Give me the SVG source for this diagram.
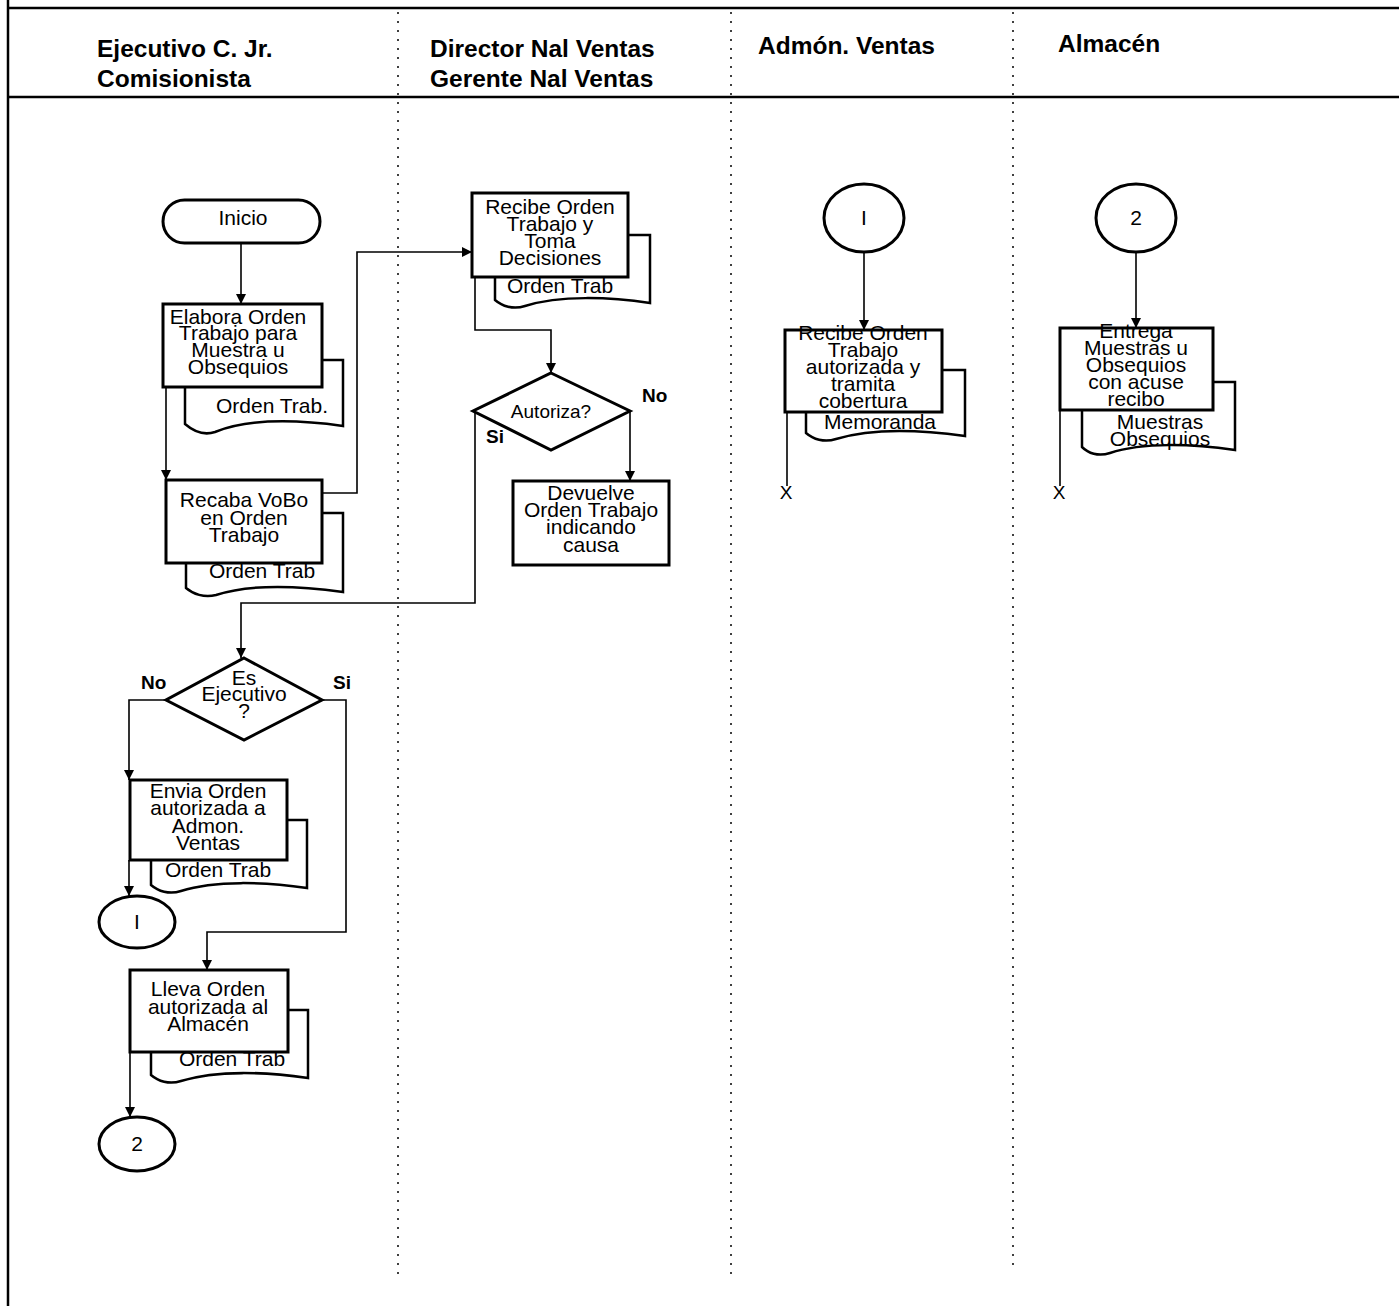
<svg xmlns="http://www.w3.org/2000/svg" width="1399" height="1306" viewBox="0 0 1399 1306">
<style>
.frame{stroke:#000;stroke-width:2.5;fill:none}
.sep{stroke:#000;stroke-width:1.5;stroke-dasharray:2 7;fill:none}
.hdr{font-family:"Liberation Sans",Arial,sans-serif;font-size:24.5px;font-weight:bold;fill:#000}
.box{fill:#fff;stroke:#000;stroke-width:3}
.doc{fill:#fff;stroke:#000;stroke-width:2.5}
.t{font-family:"Liberation Sans",Arial,sans-serif;font-size:21px;text-anchor:middle;fill:#000}
.lbl{font-family:"Liberation Sans",Arial,sans-serif;font-size:19px;font-weight:bold;fill:#000}
.conn{stroke:#000;stroke-width:1.6;fill:none}
</style>
<defs>
<marker id="arr" viewBox="0 0 10 10" refX="10" refY="5" markerWidth="10" markerHeight="10" markerUnits="userSpaceOnUse" orient="auto">
<path d="M0,0 L10,5 L0,10 Z" fill="#000"/>
</marker>
</defs>
<rect width="1399" height="1306" fill="#fff"/>
<g id="frame">
<line class="frame" x1="8" y1="8" x2="1399" y2="8"/>
<line class="frame" x1="8" y1="97" x2="1399" y2="97"/>
<line class="frame" x1="8" y1="0" x2="8" y2="1306"/>
<line class="sep" x1="398" y1="12" x2="398" y2="1280"/>
<line class="sep" x1="731" y1="12" x2="731" y2="1280"/>
<line class="sep" x1="1013" y1="12" x2="1013" y2="1272"/>
</g>
<g id="headers">
<text class="hdr" x="97" y="57">Ejecutivo C. Jr.<tspan x="97" y="87">Comisionista</tspan></text>
<text class="hdr" x="430" y="57">Director Nal Ventas<tspan x="430" y="87">Gerente Nal Ventas</tspan></text>
<text class="hdr" x="758" y="54">Admón. Ventas</text>
<text class="hdr" x="1058" y="52">Almacén</text>
</g>
<g id="connectors">
<path class="conn" d="M241,243 V304" marker-end="url(#arr)"/>
<path class="conn" d="M166,387 V480" marker-end="url(#arr)"/>
<path class="conn" d="M322,493 H357 V252 H472" marker-end="url(#arr)"/>
<path class="conn" d="M475,277 V330 H551 V373" marker-end="url(#arr)"/>
<path class="conn" d="M630,411 V481" marker-end="url(#arr)"/>
<path class="conn" d="M475,411 V603 H241 V658" marker-end="url(#arr)"/>
<path class="conn" d="M166,700 H129 V780" marker-end="url(#arr)"/>
<path class="conn" d="M129,860 V896" marker-end="url(#arr)"/>
<path class="conn" d="M322,700 H346 V932 H207 V970" marker-end="url(#arr)"/>
<path class="conn" d="M130,1052 V1117" marker-end="url(#arr)"/>
<path class="conn" d="M864,252 V330" marker-end="url(#arr)"/>
<path class="conn" d="M1136,252 V328" marker-end="url(#arr)"/>
<path class="conn" d="M787,412 V486"/>
<path class="conn" d="M1060,410 V486"/>
</g>
<g id="inicio">
<rect class="box" x="163" y="200" width="157" height="43" rx="21.5"/>
<text class="t" x="243" y="225">Inicio</text>
</g>
<g id="elabora">
<path class="doc" d="M185,360 H343 V426 C300,420 250,418 215,432 C203,436 192,430 185,424 Z"/>
<text class="t" x="272" y="413">Orden Trab.</text>
<rect class="box" x="163" y="304" width="159" height="83"/>
<text class="t" x="238" y="324">Elabora Orden<tspan x="238" y="340">Trabajo para</tspan><tspan x="238" y="357">Muestra u</tspan><tspan x="238" y="374">Obsequios</tspan></text>
</g>
<g id="recaba">
<path class="doc" d="M186,513 H343 V592 C300,586 250,584 216,595 C204,598 193,594 186,588 Z"/>
<text class="t" x="262" y="578">Orden Trab</text>
<rect class="box" x="166" y="480" width="156" height="83"/>
<text class="t" x="244" y="507">Recaba VoBo<tspan x="244" y="525">en Orden</tspan><tspan x="244" y="542">Trabajo</tspan></text>
</g>
<g id="recibe">
<path class="doc" d="M495,235 H650 V303 C610,297 560,295 525,306 C513,310 502,306 495,300 Z"/>
<text class="t" x="560" y="293">Orden Trab</text>
<rect class="box" x="472" y="193" width="156" height="84"/>
<text class="t" x="550" y="214">Recibe Orden<tspan x="550" y="231">Trabajo y</tspan><tspan x="550" y="248">Toma</tspan><tspan x="550" y="265">Decisiones</tspan></text>
</g>
<g id="autoriza">
<polygon class="box" points="551,373 630,411 551,450 473,411"/>
<text class="t" x="551" y="418" style="font-size:19px">Autoriza?</text>
<text class="lbl" x="642" y="402">No</text>
<text class="lbl" x="486" y="443">Si</text>
</g>
<g id="devuelve">
<rect class="box" x="513" y="481" width="156" height="84"/>
<text class="t" x="591" y="500">Devuelve<tspan x="591" y="517">Orden Trabajo</tspan><tspan x="591" y="534">indicando</tspan><tspan x="591" y="552">causa</tspan></text>
</g>
<g id="esejecutivo">
<polygon class="box" points="244,658 322,700 244,740 166,700"/>
<text class="t" x="244" y="685">Es<tspan x="244" y="701">Ejecutivo</tspan><tspan x="244" y="718">?</tspan></text>
<text class="lbl" x="141" y="689">No</text>
<text class="lbl" x="333" y="689">Si</text>
</g>
<g id="envia">
<path class="doc" d="M151,820 H307 V888 C265,882 215,880 181,891 C169,895 158,891 151,885 Z"/>
<text class="t" x="218" y="877">Orden Trab</text>
<rect class="box" x="130" y="780" width="157" height="80"/>
<text class="t" x="208" y="798">Envia Orden<tspan x="208" y="815">autorizada a</tspan><tspan x="208" y="833">Admon.</tspan><tspan x="208" y="850">Ventas</tspan></text>
</g>
<g id="conector1a">
<ellipse class="box" cx="137" cy="922" rx="38" ry="26"/>
<text class="t" x="137" y="929">I</text>
</g>
<g id="lleva">
<path class="doc" d="M151,1010 H308 V1078 C266,1072 216,1070 181,1081 C169,1085 158,1081 151,1075 Z"/>
<text class="t" x="232" y="1066">Orden Trab</text>
<rect class="box" x="130" y="970" width="158" height="82"/>
<text class="t" x="208" y="996">Lleva Orden<tspan x="208" y="1014">autorizada al</tspan><tspan x="208" y="1031">Almacén</tspan></text>
</g>
<g id="conector2a">
<ellipse class="box" cx="137" cy="1144" rx="38" ry="27"/>
<text class="t" x="137" y="1151">2</text>
</g>
<g id="conector1b">
<ellipse class="box" cx="864" cy="218" rx="40" ry="34"/>
<text class="t" x="864" y="225">I</text>
</g>
<g id="recibeadmon">
<path class="doc" d="M806,370 H965 V436 C922,430 872,428 836,439 C824,443 813,439 806,433 Z"/>
<text class="t" x="880" y="429">Memoranda</text>
<rect class="box" x="785" y="330" width="157" height="82"/>
<text class="t" x="863" y="340">Recibe Orden<tspan x="863" y="357">Trabajo</tspan><tspan x="863" y="374">autorizada y</tspan><tspan x="863" y="391">tramita</tspan><tspan x="863" y="408">cobertura</tspan></text>
<text class="lbl" x="786" y="499" text-anchor="middle" style="font-weight:normal">X</text>
</g>
<g id="conector2b">
<ellipse class="box" cx="1136" cy="218" rx="40" ry="34"/>
<text class="t" x="1136" y="225">2</text>
</g>
<g id="entrega">
<path class="doc" d="M1082,382 H1235 V450 C1193,444 1143,442 1110,453 C1098,457 1088,453 1082,447 Z"/>
<rect class="box" x="1060" y="328" width="153" height="82"/>
<text class="t" x="1136" y="338">Entrega<tspan x="1136" y="355">Muestras u</tspan><tspan x="1136" y="372">Obsequios</tspan><tspan x="1136" y="389">con acuse</tspan><tspan x="1136" y="406">recibo</tspan></text>
<text class="t" x="1160" y="429">Muestras<tspan x="1160" y="446">Obsequios</tspan></text>
<text class="lbl" x="1059" y="499" text-anchor="middle" style="font-weight:normal">X</text>
</g>
</svg>
